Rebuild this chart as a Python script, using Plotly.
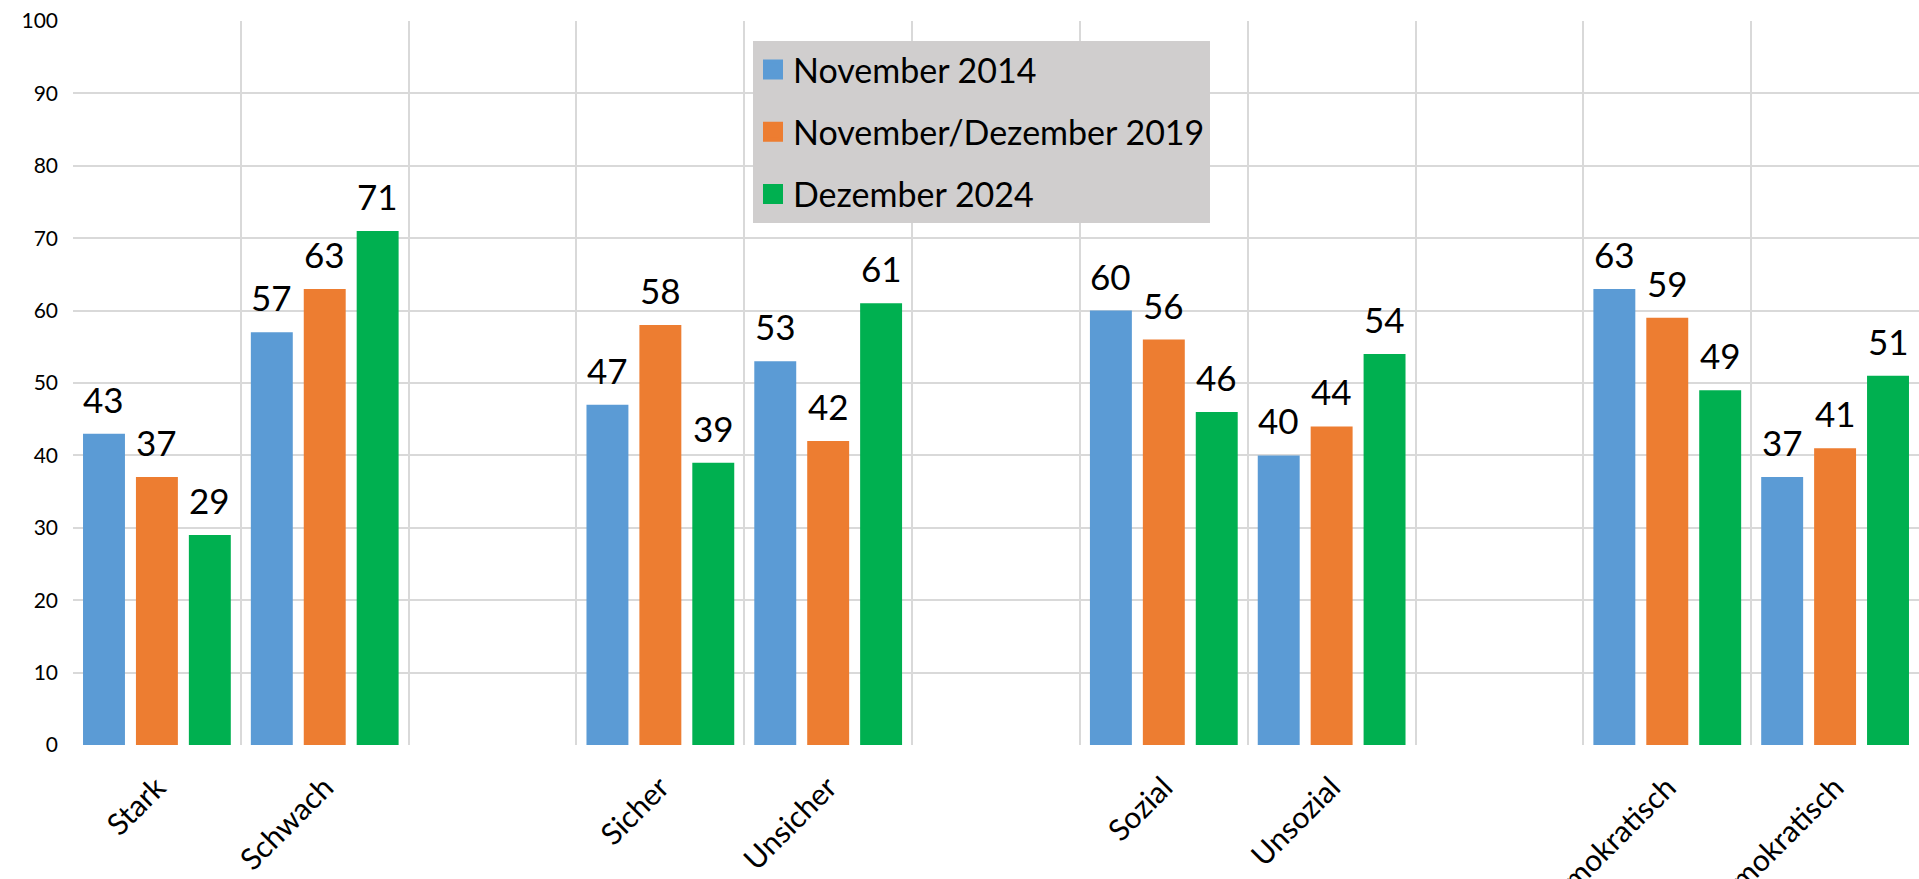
import plotly.graph_objects as go

categories = ["Stark", "Schwach", " ", "Sicher", "Unsicher", "  ",
              "Sozial", "Unsozial", "   ", "Demokratisch", "Undemokratisch"]
series_names = ["November 2014", "November/Dezember 2019", "Dezember 2024"]
nov_2014 = [43, 57, None, 47, 53, None, 60, 40, None, 63, 37]
nov_dez_2019 = [37, 63, None, 58, 42, None, 56, 44, None, 59, 41]
dez_2024 = [29, 71, None, 39, 61, None, 46, 54, None, 49, 51]
y_ticks = [0, 10, 20, 30, 40, 50, 60, 70, 80, 90, 100]
colors = ["#5B9BD5", "#ED7D31", "#00B050"]

W, H = 1919, 879
margin = dict(l=73, r=0, t=21, b=134)
bargap = 0.054
bargroupgap = 0.2075
FONT = "Lato"

series = [nov_2014, nov_dez_2019, dez_2024]

fig = go.Figure()
for name, vals, col in zip(series_names, series, colors):
    fig.add_bar(x=categories, y=vals, name=name, marker_color=col,
                marker_line_width=0, showlegend=False)

# legend entries
for name, col in zip(series_names, colors):
    fig.add_scatter(x=[None], y=[None], mode="markers", name=name,
                    legendgroup=name,
                    marker=dict(symbol="square", size=16, color=col,
                                line=dict(color=col, width=4)))

# value labels
pw = W - margin["l"] - margin["r"]
cw = pw / len(categories)
slot = cw * (1 - bargap) / len(series)
annotations = []
for i, vals in enumerate(series):
    for c, v in zip(categories, vals):
        if v is None:
            continue
        annotations.append(dict(
            x=c, y=v, xref="x", yref="y", text=str(v), showarrow=False,
            xanchor="center", yanchor="bottom",
            xshift=(i - 1) * slot, yshift=12,
            font=dict(family=FONT, size=35, color="black")))

fig.update_layout(
    width=W, height=H, margin=margin,
    paper_bgcolor="white", plot_bgcolor="white",
    barmode="group", bargap=bargap, bargroupgap=bargroupgap,
    annotations=annotations,
    legend=dict(x=(753 - margin["l"]) / pw, y=1 - (41 - margin["t"]) / (H - margin["t"] - margin["b"]),
                xanchor="left", yanchor="top", bgcolor="#D0CECE",
                font=dict(family=FONT, size=34, color="black"),
                tracegroupgap=15, borderwidth=0),
    font=dict(family=FONT, color="black"),
)
fig.update_xaxes(type="category", range=[-0.5, 10.5], tickson="boundaries",
                 showgrid=True, gridcolor="#D9D9D9", gridwidth=2,
                 ticks="", tickangle=-45, automargin=False,
                 ticklabelstandoff=18,
                 tickfont=dict(family=FONT, size=30, color="black"),
                 showline=False, zeroline=False)
fig.update_yaxes(range=[0, 100], tickvals=y_ticks, showgrid=True,
                 gridcolor="#D9D9D9", gridwidth=2, zeroline=False,
                 ticks="", ticklabelstandoff=14, automargin=False,
                 tickfont=dict(family=FONT, size=21, color="black"))

fig.write_html("out.html", config={"displayModeBar": False},
               post_script="document.body.style.margin='0';")
